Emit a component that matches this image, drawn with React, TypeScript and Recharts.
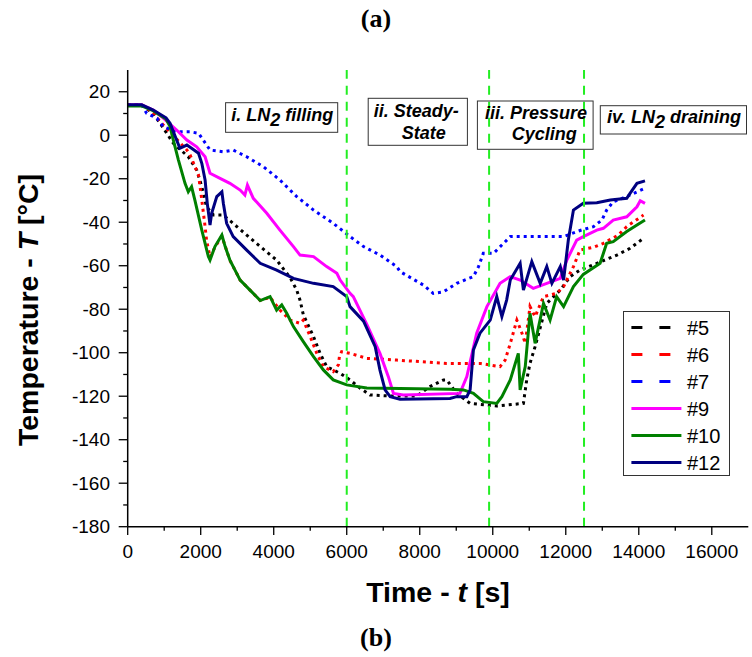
import React from 'react';
import { LineChart, Line, XAxis, YAxis, ReferenceLine, Legend } from 'recharts';

const FONT = '"Liberation Sans", Arial, Helvetica, sans-serif';
const SERIF = '"Liberation Serif", "Times New Roman", serif';

// ---------- data ----------
const xTicks = [0, 1000, 2000, 3000, 4000, 5000, 6000, 7000, 8000, 9000, 10000, 11000, 12000, 13000, 14000, 15000, 16000];
const yTicks = [-180, -170, -160, -150, -140, -130, -120, -110, -100, -90, -80, -70, -60, -50, -40, -30, -20, -10, 0, 10, 20];
const phaseTimes = [6000, 9900, 12500];

const s5: [number, number][] = [[0,14],[380,14],[700,10],[980,3.2],[1250,-3.7],[1660,-9.9],[1890,-16],[2030,-23.7],[2160,-32.9],[2350,-36.7],[2620,-36.7],[2990,-42],[3260,-45.9],[3630,-51.2],[4080,-57.4],[4450,-65.5],[4630,-71.2],[4720,-75.8],[4810,-82.5],[5090,-92.6],[5270,-100.3],[5450,-106.4],[5820,-109.5],[6090,-112.5],[6370,-116.4],[6640,-119.4],[7190,-119.9],[7920,-119.9],[8280,-115.6],[8650,-112.5],[8740,-112.5],[9010,-118.7],[9380,-123.3],[10110,-124.5],[10840,-123.3],[10930,-112.5],[11020,-104.9],[11160,-97.2],[11480,-77.3],[11850,-71.2],[12120,-65],[12390,-62],[12850,-58.9],[13400,-55.1],[13760,-52],[14130,-47.4]];

const s6: [number, number][] = [[0,14],[380,14],[700,10.5],[890,6.2],[1620,-6.8],[1710,-9.1],[1940,-18.3],[2030,-29.8],[2120,-42],[2160,-48.2],[2255,-56],[2390,-51.5],[2580,-46.5],[2800,-57.5],[3080,-66.6],[3350,-71.2],[3630,-76],[3900,-74.5],[4170,-80.4],[4450,-85],[4720,-86.5],[4810,-85],[5000,-92.6],[5180,-100.3],[5360,-106.4],[5630,-108.7],[5770,-105.6],[5800,-101.8],[5860,-99.5],[6090,-100.3],[6550,-102.6],[7370,-103.4],[8740,-104.9],[9650,-104.9],[10200,-106.4],[10340,-103.4],[10480,-95.7],[10660,-85],[10800,-91],[10890,-95.7],[11020,-78.8],[11160,-83.4],[11390,-74.2],[11750,-72.7],[11940,-69.6],[12210,-60.4],[12390,-52.8],[12760,-51.5],[13030,-49.7],[13440,-45.9],[13670,-42],[14130,-36.7]];

const s7: [number, number][] = [[0,14],[380,14],[520,10.1],[800,7.8],[980,3.9],[1340,1.6],[1710,1.6],[1940,0.9],[2255,-6.8],[2620,-7.6],[2890,-6.8],[3260,-9.9],[3720,-14.5],[4170,-20.6],[4630,-28.2],[5090,-34.4],[5630,-40.5],[6090,-46.6],[6460,-51.2],[6910,-55.1],[7370,-60.4],[7460,-62.7],[8100,-68.9],[8370,-72.7],[8650,-72],[9010,-68.1],[9470,-65],[9610,-60.4],[9740,-54.3],[10020,-54.3],[10480,-46.6],[11020,-46.6],[11940,-46.6],[12390,-43.8],[12760,-42],[12990,-39],[13120,-34.4],[13300,-30.6],[13670,-28.2],[14170,-24.4]];

const s9: [number, number][] = [[0,14],[380,14],[700,11.6],[1000,7.5],[1340,2.4],[1620,-2.2],[1890,-5.3],[2120,-9.9],[2255,-17.5],[2530,-19.8],[2800,-22.1],[3080,-25.2],[3210,-27.5],[3280,-22.9],[3440,-29],[3810,-35.9],[4170,-43.6],[4540,-51.2],[4720,-55.1],[5090,-55.8],[5450,-60.4],[5730,-63.5],[5820,-66.6],[6090,-72.7],[6180,-74.2],[6550,-87],[6910,-100.3],[7140,-111],[7280,-118.7],[7550,-119.4],[9100,-118.7],[9290,-111],[9560,-91],[9840,-78.8],[10200,-68.1],[10480,-65],[10750,-66.6],[11110,-70.4],[11480,-68.1],[11850,-65.8],[12030,-57.4],[12300,-48.2],[12480,-46.6],[12850,-43.6],[13030,-42.8],[13300,-39],[13670,-37.5],[13950,-32.9],[14040,-30.1],[14170,-31.3]];

const s10: [number, number][] = [[0,13.5],[380,13.5],[660,11.6],[1050,7.5],[1160,4],[1250,-2.2],[1390,-11.4],[1570,-22.1],[1660,-26],[1750,-23.7],[1840,-29.8],[2030,-43.6],[2210,-55.8],[2255,-57.4],[2390,-51.2],[2580,-45.9],[2670,-51.2],[2800,-57.4],[3080,-66.6],[3350,-71.2],[3630,-76],[3900,-74.2],[4080,-80.4],[4220,-78],[4360,-82],[4540,-88],[4810,-94.9],[5090,-101.8],[5360,-107.9],[5630,-112.5],[6000,-114.8],[6550,-116.2],[8830,-116.8],[9200,-117.1],[9470,-118.7],[9740,-122.5],[10110,-123.3],[10250,-120.2],[10480,-112.5],[10700,-100.3],[10750,-117.1],[10890,-106.4],[11020,-81.9],[11160,-95.7],[11390,-77.3],[11570,-85],[11750,-74.2],[11940,-78.8],[12210,-69.6],[12480,-64],[12940,-58.9],[13120,-49.7],[13300,-48.9],[13670,-44.3],[13950,-41.3],[14170,-39]];

const s12: [number, number][] = [[0,14],[380,14],[700,11.6],[1050,8],[1160,5.5],[1340,-2.2],[1430,-6],[1620,-4.5],[1750,-6],[1940,-8.3],[2030,-12.9],[2120,-20.6],[2180,-31.3],[2255,-41.3],[2300,-35.9],[2440,-28.2],[2580,-26],[2620,-31.3],[2710,-40.5],[2890,-46.6],[3260,-52.8],[3630,-58.9],[4080,-62],[4360,-64.3],[4540,-65.8],[5090,-68.1],[5630,-69.6],[6000,-74.2],[6090,-78.8],[6460,-85.5],[6780,-97.2],[6910,-108],[7050,-117.1],[7190,-120.2],[7460,-121.4],[8830,-121],[9010,-120.2],[9290,-120.2],[9380,-117.1],[9470,-98.7],[9650,-91],[9930,-85],[10110,-74.2],[10250,-83.4],[10380,-75.8],[10480,-66.6],[10750,-58.9],[10840,-71.2],[11070,-58.1],[11300,-68.1],[11480,-60.4],[11620,-68.1],[11850,-60.4],[11940,-66.6],[12070,-48.2],[12210,-34.4],[12480,-31.3],[12850,-31],[13220,-29.8],[13670,-29],[13760,-26.7],[13950,-22.1],[14170,-21]];

const seriesNames = ['#5', '#6', '#7', '#9', '#10', '#12'];
const seriesColors = ['#000000', '#ff0000', '#0000ff', '#ff00ff', '#008000', '#000080'];
const seriesDotted = [true, true, true, false, false, false];
const seriesData = [s5, s6, s7, s9, s10, s12];

const series = seriesNames.map((name, i) => ({
  name,
  color: seriesColors[i],
  dotted: seriesDotted[i],
  points: seriesData[i].map(([t, T]) => ({ t, T })),
}));

// ---------- ticks ----------
const TS = 6;
const TMG = 2;
const OFF = TS + TMG;

const LeftTick = (props: any) => {
  const { x, y, payload } = props;
  const v = payload.value;
  const major = v % 20 === 0;
  const ax = x + OFF;
  return (
    <g>
      <line x1={ax - (major ? 9 : 4.5)} x2={ax} y1={y} y2={y} stroke="#000" strokeWidth={1.3} />
      {major && (
        <text x={ax - 17.7} y={y} dy="0.35em" textAnchor="end" fontFamily={FONT} fontSize={19} fill="#000">
          {v}
        </text>
      )}
    </g>
  );
};

const RightTick = (props: any) => {
  const { x, y, payload } = props;
  const major = payload.value % 20 === 0;
  const ax = x - OFF;
  return <line x1={ax} x2={ax + (major ? 9 : 4.5)} y1={y} y2={y} stroke="#000" strokeWidth={1.3} />;
};

const BottomTick = (props: any) => {
  const { x, y, payload } = props;
  const v = payload.value;
  const major = v % 2000 === 0;
  const ay = y - OFF;
  return (
    <g>
      <line x1={x} x2={x} y1={ay} y2={ay + (major ? 8.3 : 4)} stroke="#000" strokeWidth={1.3} />
      {major && (
        <text x={x} y={ay + 31} textAnchor="middle" fontFamily={FONT} fontSize={19} fill="#000">
          {v}
        </text>
      )}
    </g>
  );
};

const TopTick = (props: any) => {
  const { x, y, payload } = props;
  const major = payload.value % 2000 === 0;
  const ay = y + OFF;
  return <line x1={x} x2={x} y1={ay} y2={ay - (major ? 8.3 : 5)} stroke="#000" strokeWidth={1.3} />;
};

// ---------- legend ----------
const LegendBox = () => (
  <svg width={108} height={166} style={{ display: 'block' }}>
    <rect x={0.5} y={0.5} width={106} height={164} fill="#fff" stroke="#333" strokeWidth={1} />
    {series.map((s, i) => {
      const cy = 16.5 + i * 27;
      return (
        <g key={s.name}>
          <line
            x1={8.4}
            x2={58.4}
            y1={cy}
            y2={cy}
            stroke={s.color}
            strokeWidth={3}
            strokeDasharray={s.dotted ? '11 17' : undefined}
          />
          <text x={64} y={cy + 7} fontFamily={FONT} fontSize={20} fill="#000">
            {s.name}
          </text>
        </g>
      );
    })}
  </svg>
);

// ---------- annotation boxes ----------
const boxStyle = { fill: 'none', stroke: '#333', strokeWidth: 1 };
const annoText = { fontFamily: FONT, fontSize: 18, fontWeight: 700, fontStyle: 'italic' as const, fill: '#000' };

export default function App() {
  return (
    <div style={{ position: 'absolute', left: 0, top: 0, width: 752, height: 657, background: '#fff' }}>
      <LineChart width={752} height={657} margin={{ top: 70, right: 3.7, bottom: 100.3, left: 67.7 }}>
        <XAxis
          xAxisId="main"
          dataKey="t"
          type="number"
          domain={[0, 17000]}
          ticks={xTicks}
          interval={0}
          height={30}
          axisLine={{ stroke: '#000', strokeWidth: 1.5 }}
          tickLine={false}
          tickSize={TS}
          tickMargin={TMG}
          tick={BottomTick}
          allowDataOverflow
        />
        <XAxis
          xAxisId="top"
          orientation="top"
          dataKey="t"
          type="number"
          domain={[0, 17000]}
          ticks={xTicks}
          interval={0}
          height={0}
          axisLine={{ stroke: '#000', strokeWidth: 1.5 }}
          tickLine={false}
          tickSize={TS}
          tickMargin={TMG}
          tick={TopTick}
          allowDataOverflow
        />
        <YAxis
          yAxisId="main"
          type="number"
          domain={[-180, 30]}
          ticks={yTicks}
          interval={0}
          width={60}
          axisLine={{ stroke: '#000', strokeWidth: 1.5 }}
          tickLine={false}
          tickSize={TS}
          tickMargin={TMG}
          tick={LeftTick}
          allowDataOverflow
        />
        <YAxis
          yAxisId="right"
          orientation="right"
          type="number"
          domain={[-180, 30]}
          ticks={yTicks}
          interval={0}
          width={0}
          axisLine={{ stroke: '#000', strokeWidth: 1.5 }}
          tickLine={false}
          tickSize={TS}
          tickMargin={TMG}
          tick={RightTick}
          allowDataOverflow
        />
        {series.map((s) => (
          <Line
            key={s.name}
            xAxisId="main"
            yAxisId="main"
            data={s.points}
            dataKey="T"
            name={s.name}
            type="linear"
            stroke={s.color}
            strokeWidth={3}
            strokeDasharray={s.dotted ? '3 4' : undefined}
            dot={false}
            activeDot={false}
            isAnimationActive={false}
          />
        ))}
        {phaseTimes.map((pt) => (
          <ReferenceLine
            key={pt}
            xAxisId="main"
            yAxisId="main"
            x={pt}
            stroke="#22ee22"
            strokeWidth={2}
            strokeDasharray="9 7"
          />
        ))}
        <Legend
          layout="vertical"
          align="center"
          verticalAlign="middle"
          content={LegendBox}
          wrapperStyle={{ position: 'absolute', left: 623, top: 311, width: 108, height: 166 }}
        />
      </LineChart>
      <svg
        width={752}
        height={657}
        style={{ position: 'absolute', left: 0, top: 0, pointerEvents: 'none' }}
      >
        {/* phase boxes */}
        <rect x={225.6} y={102.7} width={112.1} height={29.6} style={boxStyle} />
        <text x={282.3} y={121} textAnchor="middle" style={annoText}>
          i. LN<tspan dy={5}>2</tspan>
          <tspan dy={-5}> filling</tspan>
        </text>

        <rect x={368.2} y={98.3} width={99.2} height={47} style={boxStyle} />
        <text x={416.2} y={116.7} textAnchor="middle" style={annoText}>ii. Steady-</text>
        <text x={423.8} y={139} textAnchor="middle" style={annoText}>State</text>

        <rect x={477.4} y={101} width={115.7} height={48.3} style={boxStyle} />
        <text x={536} y={119.3} textAnchor="middle" style={annoText}>iii. Pressure</text>
        <text x={544.3} y={140} textAnchor="middle" style={annoText}>Cycling</text>

        <rect x={600.3} y={105.7} width={146.2} height={28.3} style={boxStyle} />
        <text x={674} y={123.3} textAnchor="middle" style={annoText}>
          iv. LN<tspan dy={5}>2</tspan>
          <tspan dy={-5}> draining</tspan>
        </text>

        {/* axis titles */}
        <text x={438} y={602} textAnchor="middle" fontFamily={FONT} fontSize={28.5} fontWeight={700} fill="#000">
          Time - <tspan fontStyle="italic">t</tspan> [s]
        </text>
        <text
          transform="translate(38,310) rotate(-90)"
          textAnchor="middle"
          fontFamily={FONT}
          fontSize={28.5}
          fontWeight={700}
          fill="#000"
        >
          Temperature - <tspan fontStyle="italic">T</tspan> [°C]
        </text>

        {/* panel labels */}
        <text x={376} y={27} textAnchor="middle" fontFamily={SERIF} fontSize={26} fontWeight={700} fill="#000">(a)</text>
        <text x={376} y={646} textAnchor="middle" fontFamily={SERIF} fontSize={26} fontWeight={700} fill="#000">(b)</text>
      </svg>
    </div>
  );
}
